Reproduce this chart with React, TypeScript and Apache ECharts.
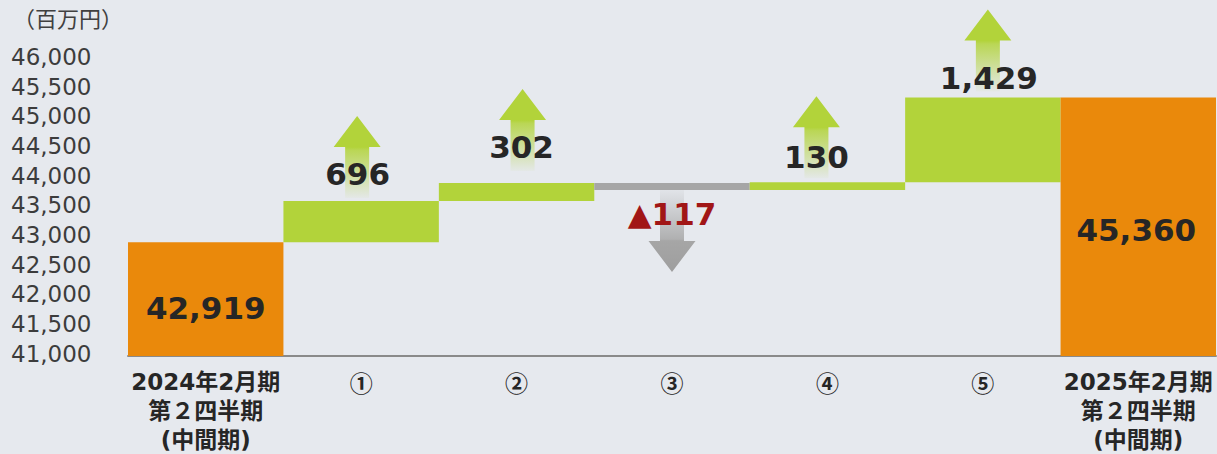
import React, { useEffect, useRef } from 'react';
import * as echarts from 'echarts';

const categories = [
  '2024年2月期\n第２四半期\n(中間期)',
  '①',
  '②',
  '③',
  '④',
  '⑤',
  '2025年2月期\n第２四半期\n(中間期)',
];
const startValue = 42919;
const changes = [696, 302, -117, 130, 1429];
const endValue = 45360;
const yMin = 41000;
const yMax = 46000;
const yInterval = 500;
const unitLabel = '（百万円）';

const fmt = (v: number) => Math.abs(v).toLocaleString('en-US');

// rows: [categoryIndex, low, high, value, kind]  kind: 0 total, 1 up, 2 down
function buildRows(): number[][] {
  const rows: number[][] = [];
  rows.push([0, yMin, startValue, startValue, 0]);
  let run = startValue;
  changes.forEach((c, i) => {
    const next = run + c;
    rows.push([i + 1, Math.min(run, next), Math.max(run, next), c, c >= 0 ? 1 : 2]);
    run = next;
  });
  rows.push([categories.length - 1, yMin, endValue, endValue, 0]);
  return rows;
}

export default function App() {
  const ref = useRef<HTMLDivElement>(null);

  useEffect(() => {
    if (!ref.current) return;
    const chart = echarts.init(ref.current, null, { renderer: 'svg' });

    const ORANGE = '#EA890B';
    const GREEN = '#B2D33A';
    const GRAY = '#A6A6A6';
    const labelDx = [0, -3.5, 5, 0, -11, 6, -2];
    const labelDy = [9, -27, -36, 24, -25.5, -20, 3];
    const arrowDx = [0, -4, 6, 0, -11, 5, 0];
    const arrowGap = [0, 3, 12, 0, 4, 6, 0];

    const upFill = new echarts.graphic.LinearGradient(0, 0, 0, 1, [
      { offset: 0, color: GREEN },
      { offset: 0.38, color: GREEN },
      { offset: 0.42, color: 'rgba(178,211,58,0.85)' },
      { offset: 1, color: 'rgba(178,211,58,0.04)' },
    ]);
    const downFill = new echarts.graphic.LinearGradient(0, 0, 0, 1, [
      { offset: 0, color: 'rgba(166,166,166,0.08)' },
      { offset: 0.6, color: 'rgba(166,166,166,0.85)' },
      { offset: 0.62, color: GRAY },
      { offset: 1, color: '#9E9E9E' },
    ]);

    const renderItem = (params: any, api: any) => {
      const idx = api.value(0);
      const low = api.value(1);
      const high = api.value(2);
      const val = api.value(3);
      const kind = api.value(4);
      const pTop = api.coord([idx, high]);
      const pBot = api.coord([idx, low]);
      const w = api.size([1, 0])[0];
      const cx = pTop[0];
      const children: any[] = [];
      children.push({
        type: 'rect',
        shape: { x: cx - w / 2, y: pTop[1], width: w, height: pBot[1] - pTop[1] },
        style: { fill: kind === 0 ? ORANGE : kind === 1 ? GREEN : GRAY },
      });
      const L = 82, HH = 31, HW = 23.5, SW = 12;
      if (kind === 1) {
        const ax = cx + arrowDx[idx];
        const bottom = pTop[1] - arrowGap[idx];
        const tip = bottom - L;
        const hb = tip + HH;
        children.push({
          type: 'polygon',
          shape: {
            points: [
              [ax, tip], [ax + HW, hb], [ax + SW, hb], [ax + SW, bottom],
              [ax - SW, bottom], [ax - SW, hb], [ax - HW, hb],
            ],
          },
          style: { fill: upFill },
        });
      } else if (kind === 2) {
        const ax = cx + arrowDx[idx];
        const top = pBot[1];
        const tip = top + L;
        const hb = tip - HH;
        children.push({
          type: 'polygon',
          shape: {
            points: [
              [ax - SW, top], [ax + SW, top], [ax + SW, hb], [ax + HW, hb],
              [ax, tip], [ax - HW, hb], [ax - SW, hb],
            ],
          },
          style: { fill: downFill },
        });
      }
      let ty: number;
      if (kind === 0) ty = (pTop[1] + pBot[1]) / 2 + labelDy[idx];
      else if (kind === 1) ty = pTop[1] + labelDy[idx];
      else ty = pBot[1] + labelDy[idx];
      children.push({
        type: 'text',
        x: cx + labelDx[idx],
        y: ty,
        z2: 10,
        style: {
          text: (kind === 2 ? '▲' : '') + fmt(val),
          fill: kind === 2 ? '#A11616' : '#262626',
          fontSize: 31,
          fontWeight: 'bold',
          fontFamily: 'DejaVu Sans',
          align: 'center',
          verticalAlign: 'middle',
        },
      });
      return { type: 'group', children };
    };

    chart.setOption({
      animation: false,
      backgroundColor: '#E6E9EE',
      grid: { left: 128, right: 1, top: 59.5, bottom: 93.4, containLabel: false },
      graphic: [
        {
          type: 'text',
          left: 13,
          top: 6,
          style: { text: unitLabel, fontSize: 22, fontFamily: 'Noto Sans CJK JP', fill: '#404040' },
        },
      ],
      xAxis: {
        type: 'category',
        data: categories,
        axisLine: { show: true, lineStyle: { color: '#8A8A8A', width: 2 } },
        axisTick: { show: false },
        axisLabel: {
          interval: 0,
          margin: 11,
          fontSize: 23,
          lineHeight: 29,
          fontWeight: 'bold',
          fontFamily: "'DejaVu Sans', 'Noto Sans CJK JP'",
          color: '#262626',
          formatter: (v: string) => (v.length === 1 ? `{c|${v}}` : v),
          rich: {
            c: {
              fontSize: 23,
              lineHeight: 29,
              fontWeight: 'bold',
              fontFamily: 'Noto Sans CJK JP',
              color: '#262626',
            },
          },
        },
      },
      yAxis: {
        type: 'value',
        min: yMin,
        max: yMax,
        interval: yInterval,
        splitLine: { show: false },
        axisLine: { show: false },
        axisTick: { show: false },
        axisLabel: {
          align: 'left',
          verticalAlign: 'bottom',
          lineHeight: 5,
          margin: 117,
          fontSize: 23,
          fontFamily: 'DejaVu Sans',
          color: '#3C3C3C',
          formatter: (v: number) => v.toLocaleString('en-US'),
        },
      },
      series: [
        {
          type: 'custom',
          renderItem,
          encode: { x: 0, y: [1, 2] },
          data: buildRows(),
        },
      ],
    });

    return () => chart.dispose();
  }, []);

  return (
    <div
      ref={ref}
      style={{ position: 'fixed', left: 0, top: 0, width: 1217, height: 454, background: '#E6E9EE' }}
    />
  );
}
